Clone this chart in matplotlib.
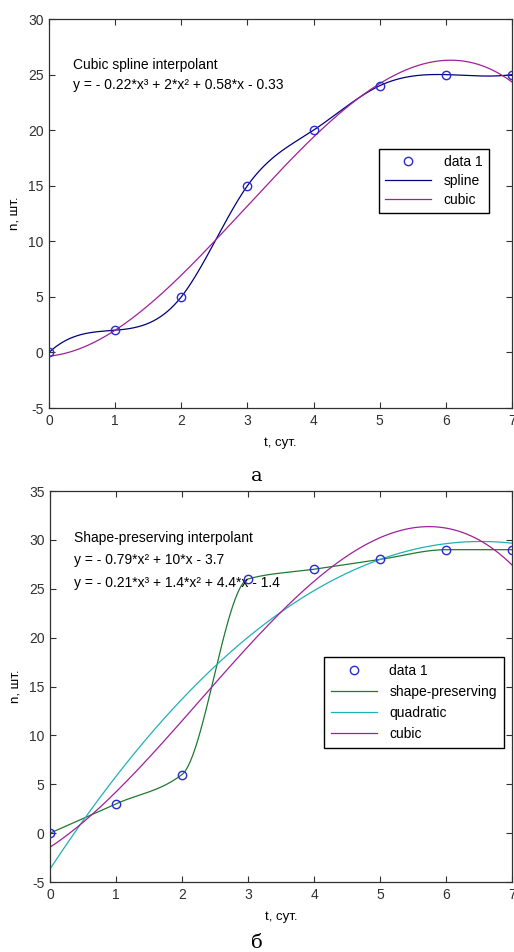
import numpy as np
import matplotlib
matplotlib.use("Agg")
import matplotlib.pyplot as plt

plt.rcParams["font.family"] = ["Liberation Sans", "DejaVu Sans"]
plt.rcParams["font.size"] = 10
plt.rcParams["axes.unicode_minus"] = False

# Data
t_days = np.array([0, 1, 2, 3, 4, 5, 6, 7], dtype=float)
n_top = np.array([0, 2, 5, 15, 20, 24, 25, 25], dtype=float)
n_bot = np.array([0, 3, 6, 26, 27, 28, 29, 29], dtype=float)

top_labels = ["data 1", "spline", "cubic"]
bot_labels = ["data 1", "shape-preserving", "quadratic", "cubic"]
top_text = ["Cubic spline interpolant",
            "y = - 0.22*x³ + 2*x² + 0.58*x - 0.33"]
bot_text = ["Shape-preserving interpolant",
            "y = - 0.79*x² + 10*x - 3.7",
            "y = - 0.21*x³ + 1.4*x² + 4.4*x - 1.4"]

C_DATA = "#2a2ad0"
C_SPLINE = "#000080"
C_CUBIC = "#a0209a"
C_SHAPE = "#1f7a2e"
C_QUAD = "#20b0b8"


# not-a-knot cubic spline (like MATLAB spline)
def spline_nak(x, y, xq):
    n = len(x)
    m = n - 1
    A = np.zeros((4 * m, 4 * m))
    b = np.zeros(4 * m)
    r = 0
    for i in range(m):
        h = x[i + 1] - x[i]
        A[r, 4 * i] = 1; b[r] = y[i]; r += 1
        A[r, 4 * i:4 * i + 4] = [1, h, h ** 2, h ** 3]; b[r] = y[i + 1]; r += 1
    for i in range(m - 1):
        h = x[i + 1] - x[i]
        A[r, 4 * i:4 * i + 4] = [0, 1, 2 * h, 3 * h ** 2]
        A[r, 4 * (i + 1) + 1] = -1; r += 1
        A[r, 4 * i:4 * i + 4] = [0, 0, 2, 6 * h]
        A[r, 4 * (i + 1) + 2] = -2; r += 1
    A[r, 3] = 1; A[r, 7] = -1; r += 1
    A[r, 4 * (m - 2) + 3] = 1; A[r, 4 * (m - 1) + 3] = -1
    coef = np.linalg.solve(A, b).reshape(m, 4)
    idx = np.clip(np.searchsorted(x, xq) - 1, 0, m - 1)
    s = xq - x[idx]
    c = coef[idx]
    return c[:, 0] + c[:, 1] * s + c[:, 2] * s ** 2 + c[:, 3] * s ** 3


# shape-preserving piecewise cubic (pchip)
def pchip(x, y, xq):
    h = np.diff(x)
    dl = np.diff(y) / h
    n = len(x)
    d = np.zeros(n)
    for k in range(1, n - 1):
        if dl[k - 1] * dl[k] > 0:
            w1 = 2 * h[k] + h[k - 1]
            w2 = h[k] + 2 * h[k - 1]
            d[k] = (w1 + w2) / (w1 / dl[k - 1] + w2 / dl[k])

    def end(h0, h1, d0, d1):
        s = ((2 * h0 + h1) * d0 - h0 * d1) / (h0 + h1)
        if np.sign(s) != np.sign(d0):
            s = 0.0
        elif np.sign(d0) != np.sign(d1) and abs(s) > abs(3 * d0):
            s = 3 * d0
        return s
    d[0] = end(h[0], h[1], dl[0], dl[1])
    d[-1] = end(h[-1], h[-2], dl[-1], dl[-2])
    idx = np.clip(np.searchsorted(x, xq) - 1, 0, n - 2)
    hh = h[idx]
    s = (xq - x[idx]) / hh
    h00 = 2 * s ** 3 - 3 * s ** 2 + 1
    h10 = s ** 3 - 2 * s ** 2 + s
    h01 = -2 * s ** 3 + 3 * s ** 2
    h11 = s ** 3 - s ** 2
    return (h00 * y[idx] + h10 * hh * d[idx] + h01 * y[idx + 1]
            + h11 * hh * d[idx + 1])


xs = np.linspace(0, 7, 400)


def style_axes(ax, ymin, ymax):
    ax.set_xlim(0, 7)
    ax.set_ylim(ymin, ymax)
    ax.set_xticks(range(0, 8))
    ax.set_yticks(range(ymin, ymax + 1, 5))
    ax.tick_params(direction="in", length=4, width=0.8, top=True, right=True,
                   labelsize=10, colors="#303030", pad=4)
    for sp in ax.spines.values():
        sp.set_color("#303030")
        sp.set_linewidth(0.9)
    ax.set_xlabel("t, сут.", fontsize=9.5, labelpad=7)
    ax.set_ylabel("n, шт.", fontsize=9.5, labelpad=5)


fig = plt.figure(figsize=(5.14, 9.52), dpi=100)
leg_kw = dict(loc="upper left", fancybox=False, edgecolor="black",
              framealpha=1, fontsize=10, handlelength=3.3,
              handletextpad=0.9, borderaxespad=0)

# top panel
ax1 = fig.add_axes([0.0953, 0.5714, 0.9008, 0.4086])
ax1.plot(t_days, n_top, "o", mfc="none", mec=C_DATA, ms=6, mew=1,
         label=top_labels[0], zorder=5)
ax1.plot(xs, spline_nak(t_days, n_top, xs), color=C_SPLINE, lw=0.9,
         label=top_labels[1])
p3 = np.polyfit(t_days, n_top, 3)
ax1.plot(xs, np.polyval(p3, xs), color=C_CUBIC, lw=0.9, label=top_labels[2])
style_axes(ax1, -5, 30)
ax1.text(0.052, 0.882, top_text[0], transform=ax1.transAxes, fontsize=10,
         va="center")
ax1.text(0.052, 0.830, top_text[1], transform=ax1.transAxes, fontsize=10,
         va="center")
ax1.legend(bbox_to_anchor=(0.713, 0.666), borderpad=0.45,
           labelspacing=0.35, **leg_kw)
fig.text(0.5, 1 - 476 / 952, "а", family="DejaVu Serif", fontsize=14,
         ha="center", va="center")

# bottom panel
ax2 = fig.add_axes([0.0973, 0.0735, 0.8988, 0.4107])
ax2.plot(t_days, n_bot, "o", mfc="none", mec=C_DATA, ms=6, mew=1,
         label=bot_labels[0], zorder=5)
ax2.plot(xs, pchip(t_days, n_bot, xs), color=C_SHAPE, lw=0.9,
         label=bot_labels[1])
p2 = np.polyfit(t_days, n_bot, 2)
ax2.plot(xs, np.polyval(p2, xs), color=C_QUAD, lw=0.9, label=bot_labels[2])
p3b = np.polyfit(t_days, n_bot, 3)
ax2.plot(xs, np.polyval(p3b, xs), color=C_CUBIC, lw=0.9, label=bot_labels[3])
style_axes(ax2, -5, 35)
for txt, yy in zip(bot_text, [0.880, 0.8235, 0.765]):
    ax2.text(0.052, yy, txt, transform=ax2.transAxes, fontsize=10,
             va="center")
ax2.legend(bbox_to_anchor=(0.593, 0.575), borderpad=0.5,
           labelspacing=0.5, **leg_kw)
fig.text(0.5, 1 - 943 / 952, "б", family="DejaVu Serif", fontsize=14,
         ha="center", va="center")

fig.savefig("out.png", dpi=100)
